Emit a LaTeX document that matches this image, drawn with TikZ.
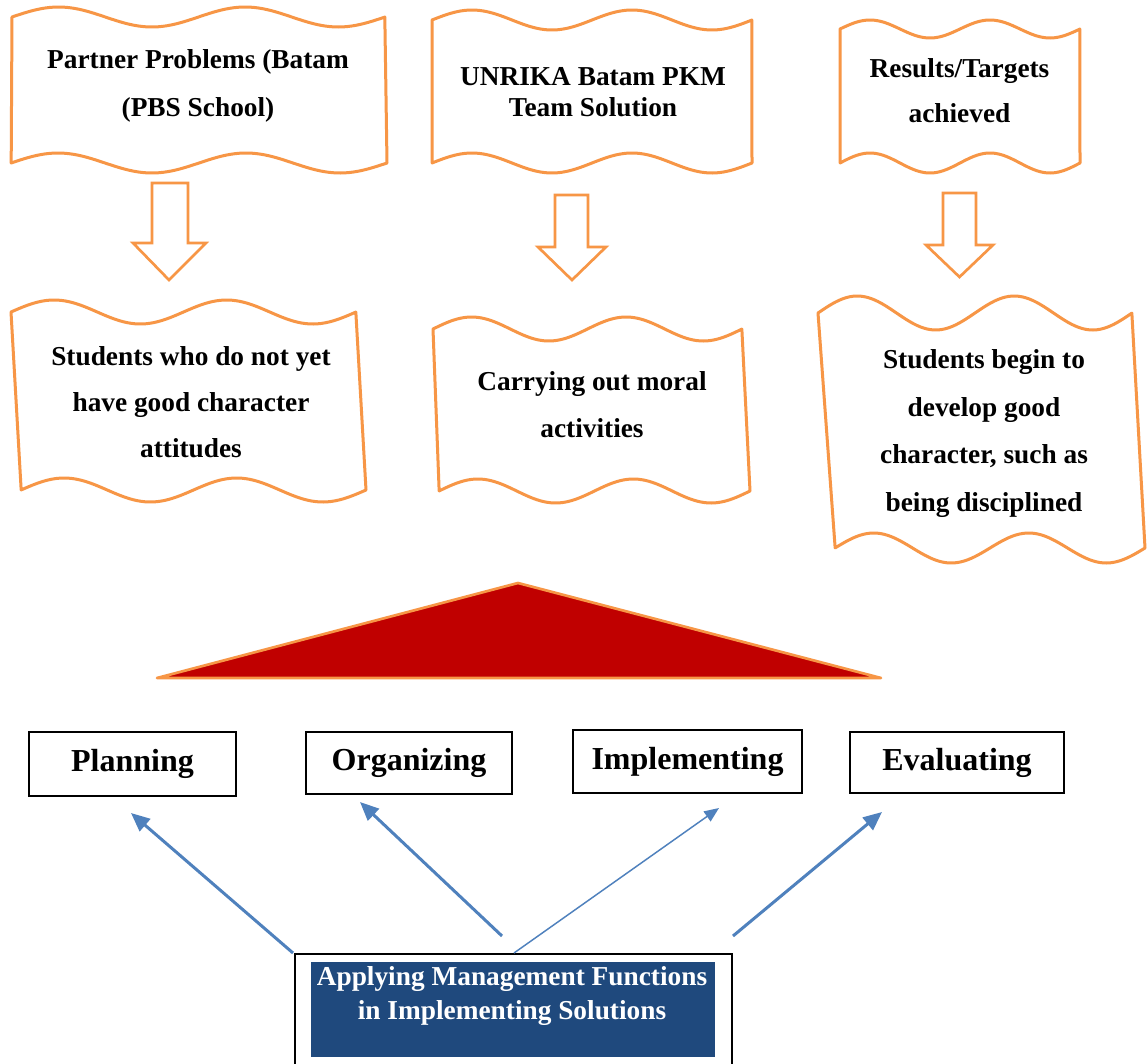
\documentclass[tikz,border=0pt]{standalone}
\usepackage{fontspec}
\setmainfont{Liberation Serif}
\usetikzlibrary{arrows.meta}
\definecolor{wor}{HTML}{F79646}
\definecolor{dred}{HTML}{C00000}
\definecolor{abl}{HTML}{4F81BD}
\definecolor{navy}{HTML}{1F497D}
\newcommand{\wavebox}[8]{%
  \draw[wavefr] plot[domain=0:1,samples=90] ({#1+\x*(#2-#1)},{#3-#7*sin(720*\x)})
    -- plot[domain=1:0,samples=90] ({#4+\x*(#5-#4)},{#6-#8*sin(720*\x)}) -- cycle;}
\begin{document}
\begin{tikzpicture}[x=0.75pt,y=-0.75pt,
  wavefr/.style={draw=wor, line width=2.25pt, fill=white, line join=round},
  blk/.style={draw=wor, line width=2pt, fill=white, line join=miter},
  txt/.style={font=\bfseries\fontsize{20.5}{#1}\selectfont, align=center, inner sep=0pt},
  fbox/.style={draw=black, line width=1.5pt, fill=white, inner sep=0pt, font=\bfseries\fontsize{24}{28}\selectfont},
  barrow/.style={draw=abl, line width=2.25pt, -{Triangle[length=14pt,width=12pt]}},
  tarrow/.style={draw=abl, line width=1.1pt, -{Triangle[length=11pt,width=9pt]}}]
\useasboundingbox (0,0) rectangle (1147,1064);
\clip (0,0) rectangle (1147,1064);
\fill[white] (0,0) rectangle (1147,1064);

% top wave boxes
\wavebox{12}{385}{17}{11}{387}{163}{10}{10}
\wavebox{432}{752}{20}{432}{752}{163}{10}{10}
\wavebox{840}{1080}{29}{840}{1080}{163}{9}{10}
\node[txt=36] (t1) at (198,86) {Partner Problems (Batam\\(PBS School)};
\node[txt=23.25] (t2) at (593,92.5) {UNRIKA Batam PKM\\Team Solution};
\node[txt=33.75] (t3) at (959.5,90.5) {Results/Targets\\achieved};

% block arrows
\draw[blk] (152,183) -- (188,183) -- (188,243) -- (206,243) -- (169,280) -- (133,243) -- (152,243) -- cycle;
\draw[blk] (555,195) -- (588,195) -- (588,247) -- (606,247) -- (572,280) -- (538,247) -- (555,247) -- cycle;
\draw[blk] (943,193) -- (976,193) -- (976,245) -- (993,245) -- (959.5,277) -- (926,245) -- (943,245) -- cycle;

% middle wave boxes
\wavebox{11}{356}{312}{21}{366}{490}{12}{12}
\wavebox{433}{742}{329}{439}{750}{491}{12}{12}
\wavebox{818}{1132}{313}{835}{1145}{548}{17}{15}
\node[txt=34.5] (m1) at (191,402) {Students who do not yet\\have good character\\attitudes};
\node[txt=35.25] (m2) at (592,404.5) {Carrying out moral\\activities};
\node[txt=35.75] (m3) at (984,433.5) {Students begin to\\develop good\\character, such as\\being disciplined};

% triangle
\draw[fill=dred, draw=wor, line width=2pt, line join=round] (157,678) -- (518,583) -- (881,678) -- cycle;

% function boxes
\node[fbox, minimum width={207*0.75pt}, minimum height={64*0.75pt}] (plan) at (132.5,764) {Planning};
\node[fbox, minimum width={206*0.75pt}, minimum height={62*0.75pt}] (org) at (409,763) {Organizing};
\node[fbox, minimum width={229*0.75pt}, minimum height={63*0.75pt}] (impl) at (687.5,761.5) {Implementing};
\node[fbox, minimum width={214*0.75pt}, minimum height={61*0.75pt}] (eval) at (957,762.5) {Evaluating};

% bottom box
\node[draw=black, line width=1.5pt, fill=white, minimum width={437*0.75pt}, minimum height={132*0.75pt}, inner sep=0pt] (frame) at (513.5,1020) {};
\node[fill=navy, minimum width={404*0.75pt}, minimum height={95*0.75pt}, inner sep=0pt] (apply) at (513,1009.5) {};
\node[txt=25.5, text=white] (applytxt) at (512,996) {Applying Management Functions\\in Implementing Solutions};

% arrows
\coordinate (sp) at (293,953); \coordinate (ep) at (131,813);
\coordinate (so) at (502,936); \coordinate (eo) at (360,802);
\coordinate (si) at (514,953); \coordinate (ei) at (719,808);
\coordinate (se) at (733,936); \coordinate (ee) at (882,812);
\draw[barrow] (sp) -- (ep);
\draw[barrow] (so) -- (eo);
\draw[tarrow] (si) -- (ei);
\draw[barrow] (se) -- (ee);
\end{tikzpicture}
\end{document}
